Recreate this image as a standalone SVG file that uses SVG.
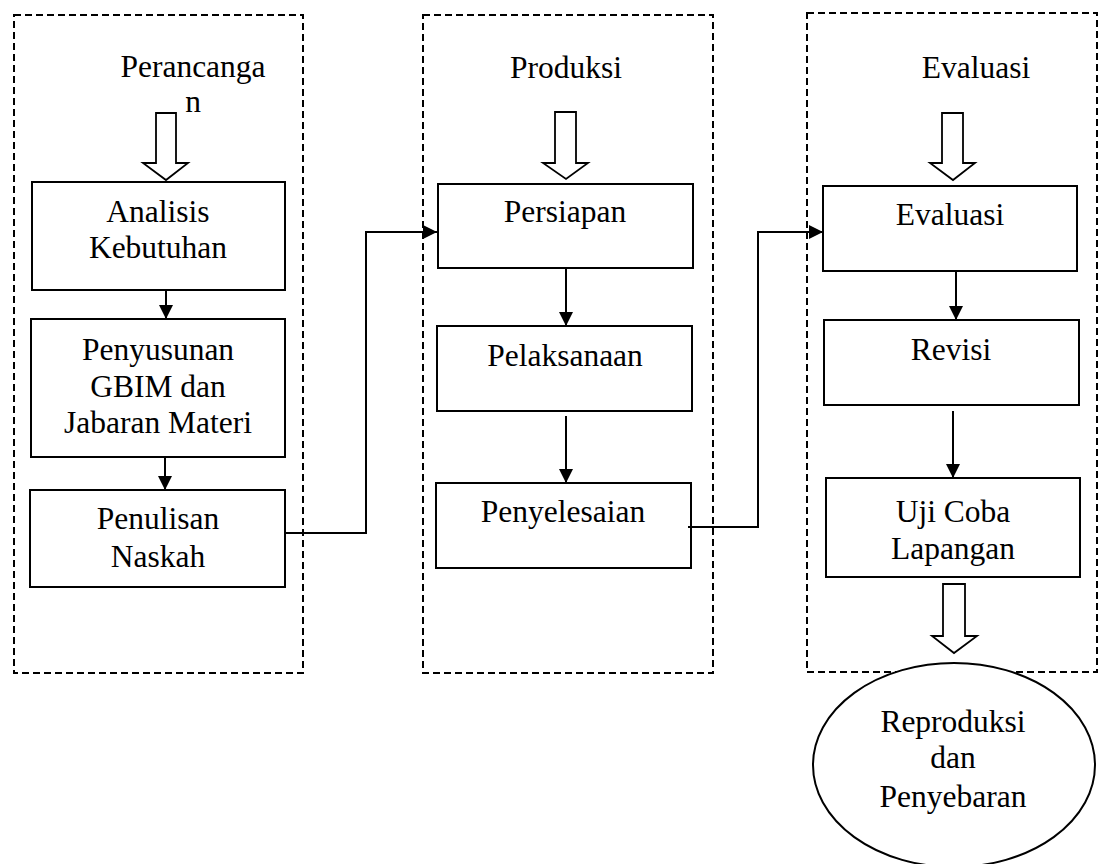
<svg xmlns="http://www.w3.org/2000/svg" width="1106" height="864" viewBox="0 0 1106 864">
<style>
.grp{fill:none;stroke:#000;stroke-width:2;stroke-dasharray:7,4}
.box{fill:#fff;stroke:#000;stroke-width:2}
.t{font-family:"Liberation Serif","Times New Roman",serif;font-size:31.5px;fill:#000;text-anchor:middle}
.con{fill:none;stroke:#000;stroke-width:2}
.hollow{fill:#fff;stroke:#000;stroke-width:1.8;stroke-linejoin:miter}
</style>
<defs>
<marker id="ah" viewBox="0 0 10 10" refX="10" refY="5" markerWidth="14" markerHeight="14" markerUnits="userSpaceOnUse" orient="auto">
<path d="M0,0 L10,5 L0,10 Z" fill="#000"/>
</marker>
</defs>
<rect width="1106" height="864" fill="#fff"/>

<g id="group-perancangan">
<rect class="grp" x="14" y="15" width="289" height="658"/>
<text class="t" x="193" y="77">Perancanga</text>
<text class="t" x="193" y="112">n</text>
<path class="hollow" d="M156,113 H176 V163 H188 L166,180 L143,163 H156 Z"/>
</g>
<g id="group-produksi">
<rect class="grp" x="423" y="15" width="290" height="658"/>
<text class="t" x="566" y="78">Produksi</text>
<path class="hollow" d="M555,112 H576 V163 H588 L566,179 L543,163 H555 Z"/>
</g>
<g id="group-evaluasi">
<rect class="grp" x="807" y="13" width="290" height="659"/>
<text class="t" x="976" y="78">Evaluasi</text>
<path class="hollow" d="M942,113 H963 V163 H975 L953,180 L930,163 H942 Z"/>
<path class="hollow" d="M943,584 H965 V636 H977 L954,653 L932,636 H943 Z"/>
</g>

<g id="node-analisis">
<rect class="box" x="32" y="182" width="253" height="108"/>
<text class="t" x="158" y="222">Analisis</text>
<text class="t" x="158" y="258">Kebutuhan</text>
</g>
<g id="node-penyusunan">
<rect class="box" x="31" y="319" width="254" height="138"/>
<text class="t" x="158" y="360">Penyusunan</text>
<text class="t" x="158" y="397">GBIM dan</text>
<text class="t" x="158" y="433">Jabaran Materi</text>
</g>
<g id="node-penulisan">
<rect class="box" x="30" y="490" width="255" height="97"/>
<text class="t" x="158" y="529">Penulisan</text>
<text class="t" x="158" y="567">Naskah</text>
</g>
<g id="node-persiapan">
<rect class="box" x="438" y="184" width="255" height="84"/>
<text class="t" x="565" y="222">Persiapan</text>
</g>
<g id="node-pelaksanaan">
<rect class="box" x="437" y="326" width="255" height="85"/>
<text class="t" x="565" y="366">Pelaksanaan</text>
</g>
<g id="node-penyelesaian">
<rect class="box" x="436" y="483" width="255" height="85"/>
<text class="t" x="563" y="522">Penyelesaian</text>
</g>
<g id="node-evaluasi">
<rect class="box" x="823" y="186" width="254" height="85"/>
<text class="t" x="950" y="225">Evaluasi</text>
</g>
<g id="node-revisi">
<rect class="box" x="824" y="320" width="255" height="85"/>
<text class="t" x="951" y="360">Revisi</text>
</g>
<g id="node-uji">
<rect class="box" x="826" y="478" width="254" height="99"/>
<text class="t" x="953" y="522">Uji Coba</text>
<text class="t" x="953" y="559">Lapangan</text>
</g>
<g id="node-reproduksi">
<ellipse class="box" cx="954" cy="765" rx="141" ry="102" stroke-width="1.6"/>
<text class="t" x="953" y="732">Reproduksi</text>
<text class="t" x="953" y="768">dan</text>
<text class="t" x="953" y="807">Penyebaran</text>
</g>

<g id="connectors">
<path class="con" d="M166,290 V319" marker-end="url(#ah)"/>
<path class="con" d="M165,457 V490" marker-end="url(#ah)"/>
<path class="con" d="M285,533 H366 V232 H437" marker-end="url(#ah)"/>
<path class="con" d="M566,268 V326" marker-end="url(#ah)"/>
<path class="con" d="M566,416 V483" marker-end="url(#ah)"/>
<path class="con" d="M688,527 H758 V232 H823" marker-end="url(#ah)"/>
<path class="con" d="M956,271 V320" marker-end="url(#ah)"/>
<path class="con" d="M953,411 V478" marker-end="url(#ah)"/>
</g>
</svg>
